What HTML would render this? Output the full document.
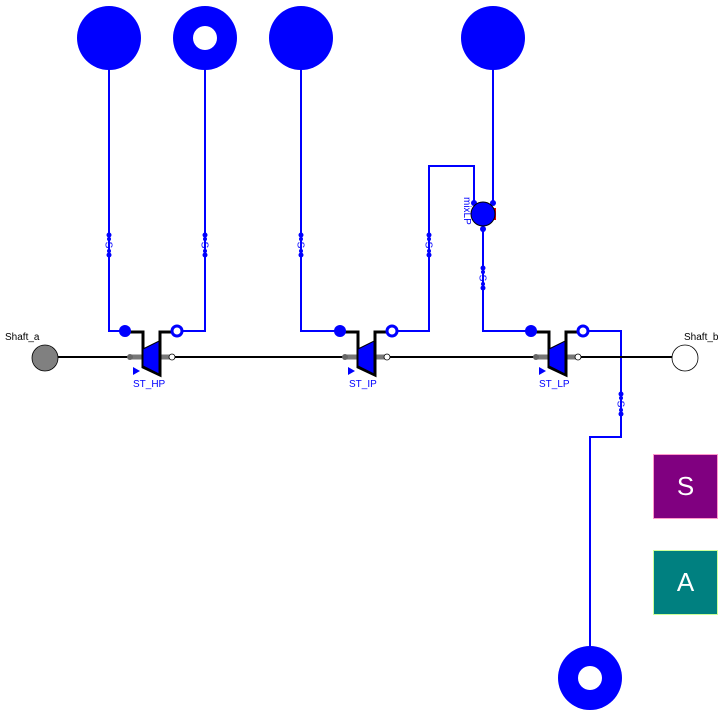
<!DOCTYPE html>
<html><head><style>body{margin:0;background:#fff}svg{display:block}</style></head><body>
<svg width="728" height="717" viewBox="0 0 728 717" xmlns="http://www.w3.org/2000/svg" font-family="Liberation Sans, sans-serif">
<defs>
<g id="turb">
  <line x1="129" y1="357" x2="143" y2="357" stroke="#777" stroke-width="5"/>
  <circle cx="130" cy="357" r="3" fill="#666"/>
  <line x1="160" y1="357" x2="172" y2="357" stroke="#777" stroke-width="5"/>
  <circle cx="172" cy="357" r="3" fill="#fff" stroke="#000" stroke-width="0.8"/>
  <polyline points="125,332 143,332 143,367 160,375 160,332 173,332" fill="none" stroke="#000" stroke-width="3"/>
  <polygon points="143,349 159,341 159,374 143,366" fill="#0000ff" stroke="#000" stroke-width="1"/>
  <circle cx="125" cy="331" r="6" fill="#0000ff"/>
  <circle cx="177" cy="331" r="5" fill="#fff" stroke="#0000ff" stroke-width="3"/>
  <polygon points="133,367 140,371 133,375" fill="#0000ff"/>
</g>
<g id="sens">
  <circle cx="0" cy="-10" r="2.5" fill="#0000ff"/>
  <circle cx="0" cy="-6" r="2" fill="#0000ff"/>
  <text x="0" y="0" font-size="10" fill="#0000ff" text-anchor="middle" transform="rotate(90) translate(0,3.5)">S</text>
  <circle cx="0" cy="6" r="2" fill="#0000ff"/>
  <circle cx="0" cy="10" r="2.5" fill="#0000ff"/>
</g>
</defs>
<g fill="none" stroke="#0000ff" stroke-width="2">
  <polyline points="109,38 109,331 125,331"/>
  <polyline points="205,38 205,331 177,331"/>
  <polyline points="301,38 301,331 340,331"/>
  <polyline points="392,331 429,331 429,166 474,166 474,205"/>
  <polyline points="493,38 493,204"/>
  <polyline points="483,214 483,331 531,331"/>
  <polyline points="584,331 621,331 621,437 590,437 590,678"/>
</g>
<line x1="45" y1="357" x2="685" y2="357" stroke="#000" stroke-width="2"/>
<use href="#turb"/>
<use href="#turb" transform="translate(215,0)"/>
<use href="#turb" transform="translate(406,0)"/>
<circle cx="109" cy="38" r="32" fill="#0000ff"/>
<circle cx="205" cy="38" r="32" fill="#0000ff"/><circle cx="205" cy="38" r="12" fill="#fff"/>
<circle cx="301" cy="38" r="32" fill="#0000ff"/>
<circle cx="493" cy="38" r="32" fill="#0000ff"/>
<circle cx="590" cy="678" r="32" fill="#0000ff"/><circle cx="590" cy="678" r="12" fill="#fff"/>
<circle cx="474" cy="203" r="3" fill="#0000ff"/><circle cx="493" cy="203" r="3" fill="#0000ff"/>
<circle cx="483" cy="229" r="3" fill="#0000ff"/>
<rect x="490" y="208" width="6" height="12" fill="#dd0000"/>
<circle cx="483" cy="214" r="12" fill="#0000ff" stroke="#000" stroke-width="1"/>
<text x="0" y="0" font-size="10" fill="#0000ff" transform="translate(464,197) rotate(90)">mixLP</text>
<use href="#sens" transform="translate(109,245)"/>
<use href="#sens" transform="translate(205,245)"/>
<use href="#sens" transform="translate(301,245)"/>
<use href="#sens" transform="translate(429,245)"/>
<use href="#sens" transform="translate(483,278)"/>
<use href="#sens" transform="translate(621,404)"/>
<circle cx="45" cy="358" r="13" fill="#808080" stroke="#000" stroke-width="0.8"/>
<circle cx="685" cy="358" r="13" fill="#fff" stroke="#000" stroke-width="0.8"/>
<text x="5" y="340" font-size="10">Shaft_a</text>
<text x="684" y="340" font-size="10">Shaft_b</text>
<text x="133" y="387" font-size="10" fill="#0000ff">ST_HP</text>
<text x="349" y="387" font-size="10" fill="#0000ff">ST_IP</text>
<text x="539" y="387" font-size="10" fill="#0000ff">ST_LP</text>
<rect x="653.5" y="454.5" width="64" height="64" fill="#800080" stroke="#ff99cc"/>
<text x="685.5" y="495" font-size="26" fill="#fff" text-anchor="middle">S</text>
<rect x="653.5" y="550.5" width="64" height="64" fill="#008080" stroke="#ccff99"/>
<text x="685.5" y="591" font-size="26" fill="#fff" text-anchor="middle">A</text>
</svg>
</body></html>
